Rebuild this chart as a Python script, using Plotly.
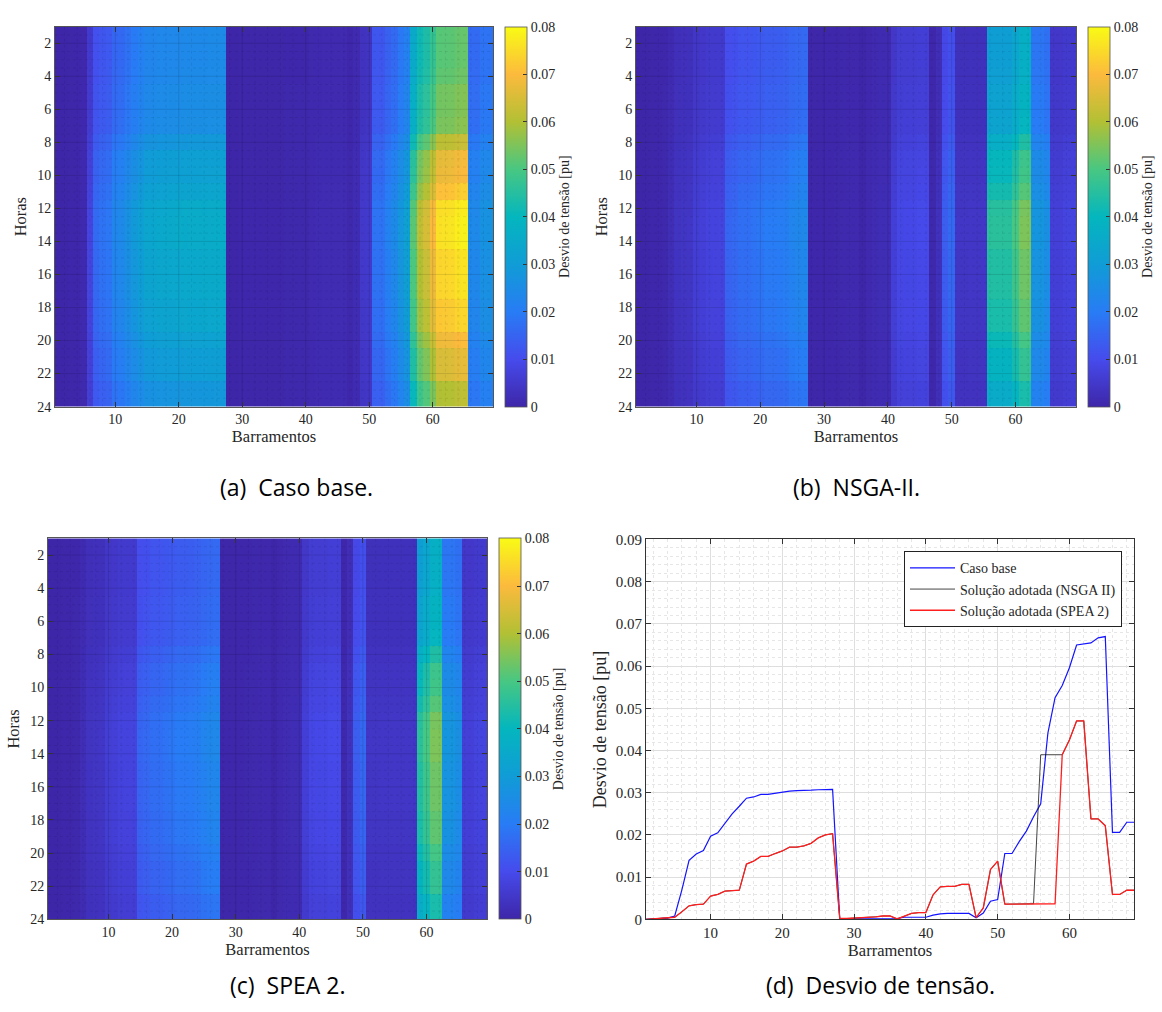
import plotly.graph_objects as go

# ---------------- data ----------------
buses = list(range(1, 70))
hours = list(range(1, 25))

# per-bus voltage deviation (pu)
base_case = [0.0, 0.0001, 0.0002, 0.0003, 0.0008, 0.0070, 0.0140, 0.0155, 0.0163, 0.0197,
             0.0205, 0.0228, 0.0250, 0.0268, 0.0287, 0.0290, 0.0296, 0.0296, 0.0299, 0.0301,
             0.0304, 0.0305, 0.0305, 0.0306, 0.0307, 0.0308, 0.0308, 0.0001, 0.0001, 0.0002,
             0.0002, 0.0002, 0.0002, 0.0002, 0.0002, 0.0002, 0.0005, 0.0005, 0.0005, 0.0005,
             0.0010, 0.0013, 0.0014, 0.0014, 0.0014, 0.0014, 0.0004, 0.0015, 0.0043, 0.0047,
             0.0156, 0.0156, 0.0184, 0.0209, 0.0243, 0.0274, 0.0441, 0.0525, 0.0554, 0.0596,
             0.0650, 0.0652, 0.0655, 0.0667, 0.0670, 0.0206, 0.0206, 0.0230, 0.0230]

nsga2 = [0.0, 0.0001, 0.0002, 0.0003, 0.0005, 0.0018, 0.0032, 0.0035, 0.0036, 0.0055,
         0.0059, 0.0067, 0.0068, 0.0069, 0.0131, 0.0138, 0.0149, 0.0149, 0.0156, 0.0162,
         0.0171, 0.0171, 0.0174, 0.0180, 0.0193, 0.0200, 0.0203, 0.0002, 0.0002, 0.0003,
         0.0003, 0.0004, 0.0006, 0.0008, 0.0008, 0.0001, 0.0008, 0.0014, 0.0016, 0.0016,
         0.0058, 0.0077, 0.0078, 0.0078, 0.0083, 0.0083, 0.0004, 0.0027, 0.0118, 0.0138,
         0.0036, 0.0036, 0.0037, 0.0037, 0.0037, 0.0390, 0.0390, 0.0390, 0.0390, 0.0425,
         0.0470, 0.0470, 0.0238, 0.0238, 0.0222, 0.0059, 0.0059, 0.0069, 0.0069]

spea2 = [0.0, 0.0001, 0.0002, 0.0003, 0.0005, 0.0018, 0.0032, 0.0035, 0.0036, 0.0055,
         0.0059, 0.0067, 0.0068, 0.0069, 0.0131, 0.0138, 0.0149, 0.0149, 0.0156, 0.0162,
         0.0171, 0.0171, 0.0174, 0.0180, 0.0193, 0.0200, 0.0203, 0.0002, 0.0002, 0.0003,
         0.0003, 0.0004, 0.0006, 0.0008, 0.0008, 0.0001, 0.0008, 0.0014, 0.0016, 0.0016,
         0.0058, 0.0077, 0.0078, 0.0078, 0.0083, 0.0083, 0.0004, 0.0027, 0.0118, 0.0138,
         0.0036, 0.0036, 0.0037, 0.0037, 0.0037, 0.0037, 0.0037, 0.0037, 0.0390, 0.0425,
         0.0470, 0.0470, 0.0238, 0.0238, 0.0222, 0.0059, 0.0059, 0.0069, 0.0069]

# hourly scaling (relative to panel d values)
hour_factor = [0.79, 0.79, 0.79, 0.80, 0.83, 0.83, 0.84, 0.94, 1.03, 1.04, 1.09, 1.16,
               1.17, 1.17, 1.14, 1.14, 1.14, 1.11, 1.11, 1.05, 1.00, 1.00, 0.92, 0.92]

x_ticks = [10, 20, 30, 40, 50, 60]
y_ticks_h = [2, 4, 6, 8, 10, 12, 14, 16, 18, 20, 22, 24]
cb_ticks = [0, 0.01, 0.02, 0.03, 0.04, 0.05, 0.06, 0.07, 0.08]
cb_text = ["0", "0.01", "0.02", "0.03", "0.04", "0.05", "0.06", "0.07", "0.08"]
d_yticks = [0, 0.01, 0.02, 0.03, 0.04, 0.05, 0.06, 0.07, 0.08, 0.09]
d_ytext = ["0", "0.01", "0.02", "0.03", "0.04", "0.05", "0.06", "0.07", "0.08", "0.09"]

captions = ["(a)\u00a0\u00a0Caso base.", "(b)\u00a0\u00a0NSGA-II.",
            "(c)\u00a0\u00a0SPEA 2.", "(d)\u00a0\u00a0Desvio de tensão."]
cb_title = "Desvio de tensão [pu]"
legend_names = ["Caso base", "Solução adotada (NSGA II)", "Solução adotada (SPEA 2)"]

parula = [
    [0.000, "rgb(62,38,168)"],
    [0.125, "rgb(70,75,236)"],
    [0.250, "rgb(40,124,245)"],
    [0.375, "rgb(16,156,214)"],
    [0.500, "rgb(4,182,190)"],
    [0.625, "rgb(72,199,130)"],
    [0.750, "rgb(178,192,52)"],
    [0.875, "rgb(252,186,61)"],
    [1.000, "rgb(249,251,21)"],
]

SERIF = "Liberation Serif, Times New Roman, serif"
TXT = "#262626"

def sfont(size):
    return dict(family=SERIF, size=size, color=TXT)

fig = go.Figure()

W, H = 1162, 1012
def fx(p):
    return p / W
def fy(p):
    return 1 - p / H

panels = [
    dict(data=base_case, xd=[fx(55), fx(493)], yd=[fy(405), fy(19)], cbx=fx(505), ax=""),
    dict(data=nsga2, xd=[fx(636), fx(1076)], yd=[fy(405), fy(19)], cbx=fx(1088), ax="2"),
    dict(data=spea2, xd=[fx(48), fx(487)], yd=[fy(926), fy(539)], cbx=fx(499), ax="3"),
]

def grid_trace(xl, yl, xr, yr, xa, ya, color, width, dash):
    xs, ys = [], []
    for v in xl:
        xs += [v, v, None]
        ys += [yr[0], yr[1], None]
    for v in yl:
        xs += [xr[0], xr[1], None]
        ys += [v, v, None]
    return go.Scatter(x=xs, y=ys, mode="lines", xaxis=xa, yaxis=ya,
                      line=dict(color=color, width=width, dash=dash),
                      hoverinfo="skip", showlegend=False)

xr_h = [0.5, 69.5]
yr_h = [1, 24]
minor_x = [v for v in range(2, 70, 2) if v % 10 != 0]
minor_y = [v / 2 for v in range(3, 48) if (v / 2) % 2 != 0]

layout_axes = {}
for p in panels:
    z = [[b * f for b in p["data"]] for f in hour_factor]
    xa = "x" + p["ax"]
    ya = "y" + p["ax"]
    ymid = (p["yd"][0] + p["yd"][1]) / 2
    ylen = p["yd"][1] - p["yd"][0]
    fig.add_trace(go.Heatmap(
        x=buses, y=hours, z=z, xaxis=xa, yaxis=ya, zmin=0, zmax=0.08,
        colorscale=parula, hoverinfo="skip",
        colorbar=dict(x=p["cbx"], xanchor="left", y=ymid, yanchor="middle",
                      len=ylen, thickness=22, xpad=0, ypad=0,
                      outlinewidth=0.8, outlinecolor="#555555",
                      tickvals=cb_ticks, ticktext=cb_text, ticks="inside", ticklen=4,
                      tickcolor="#333333",
                      tickfont=sfont(14),
                      title=dict(text=cb_title, side="right", font=sfont(14))),
    ))
    fig.add_trace(grid_trace(minor_x, minor_y, xr_h, yr_h, xa, ya,
                             "rgba(0,0,0,0.13)", 0.6, "dot"))
    fig.add_trace(grid_trace(x_ticks, y_ticks_h[:-1], xr_h, yr_h, xa, ya,
                             "rgba(0,0,0,0.16)", 0.7, "solid"))
    key = "axis" + p["ax"]
    layout_axes["x" + key] = dict(
        domain=p["xd"], anchor=ya, range=xr_h, tickvals=x_ticks,
        ticks="inside", ticklen=5, tickcolor="#333333", showline=True, linecolor="#555555",
        linewidth=0.8, mirror="ticks", showgrid=False, zeroline=False, layer="above traces",
        tickfont=sfont(14),
        title=dict(text="Barramentos", standoff=3, font=sfont(16.5)))
    layout_axes["y" + key] = dict(
        domain=p["yd"], anchor=xa, range=[24, 1], tickvals=y_ticks_h,
        ticks="inside", ticklen=5, tickcolor="#333333", showline=True, linecolor="#555555",
        linewidth=0.8, mirror="ticks", showgrid=False, zeroline=False, layer="above traces",
        tickfont=sfont(14),
        title=dict(text="Horas", standoff=6, font=sfont(16.5)))

# ---------------- panel (d): line chart ----------------
line_series = [(base_case, "rgb(20,20,255)", 1.2),
               (nsga2, "rgb(20,20,20)", 0.8),
               (spea2, "rgb(255,30,30)", 1.3)]
for (vals, col, lw), name in zip(line_series, legend_names):
    fig.add_trace(go.Scatter(x=buses, y=vals, mode="lines", name=name,
                             line=dict(color=col, width=lw),
                             xaxis="x4", yaxis="y4", hoverinfo="skip"))

layout_axes["xaxis4"] = dict(
    domain=[fx(646), fx(1134)], anchor="y4", range=[1, 69], tickvals=x_ticks,
    ticks="inside", ticklen=5, tickcolor="#333333", showline=True, linecolor="#333333",
    linewidth=0.8, mirror="ticks", zeroline=False,
    showgrid=True, gridcolor="#dedede", gridwidth=1,
    minor=dict(dtick=2, tick0=0, showgrid=True, gridcolor="#e6e6e6", griddash="dot",
               gridwidth=1, ticks=""),
    tickfont=sfont(15),
    title=dict(text="Barramentos", standoff=3, font=sfont(16.5)))
layout_axes["yaxis4"] = dict(
    domain=[fy(926), fy(540)], anchor="x4", range=[0, 0.09], tickvals=d_yticks,
    ticktext=d_ytext,
    ticks="inside", ticklen=5, tickcolor="#333333", showline=True, linecolor="#333333",
    linewidth=0.8, mirror="ticks", zeroline=False,
    showgrid=True, gridcolor="#dedede", gridwidth=1,
    minor=dict(dtick=0.002, tick0=0, showgrid=True, gridcolor="#e6e6e6", griddash="dot",
               gridwidth=1, ticks=""),
    tickfont=sfont(15),
    title=dict(text="Desvio de tensão [pu]", standoff=4, font=sfont(18)))

cap_pos = [(fx(296), fy(487)), (fx(856), fy(487)), (fx(287), fy(993)), (fx(880), fy(993))]
annotations = []
for text, (cx, cy) in zip(captions, cap_pos):
    annotations.append(dict(text=text, x=cx, y=cy, xref="paper", yref="paper",
                            xanchor="center", yanchor="middle", showarrow=False,
                            font=dict(family="Open Sans", size=23, color="black")))

fig.update_layout(
    width=W, height=H, margin=dict(l=0, r=0, t=0, b=0),
    paper_bgcolor="white", plot_bgcolor="white",
    font=sfont(14),
    showlegend=True,
    legend=dict(x=fx(1122), xanchor="right", y=fy(552), yanchor="top",
                bordercolor="#222222", borderwidth=1, bgcolor="white",
                font=sfont(14), itemwidth=45, tracegroupgap=0),
    annotations=annotations,
    **layout_axes,
)

fig.write_html("out.html")
